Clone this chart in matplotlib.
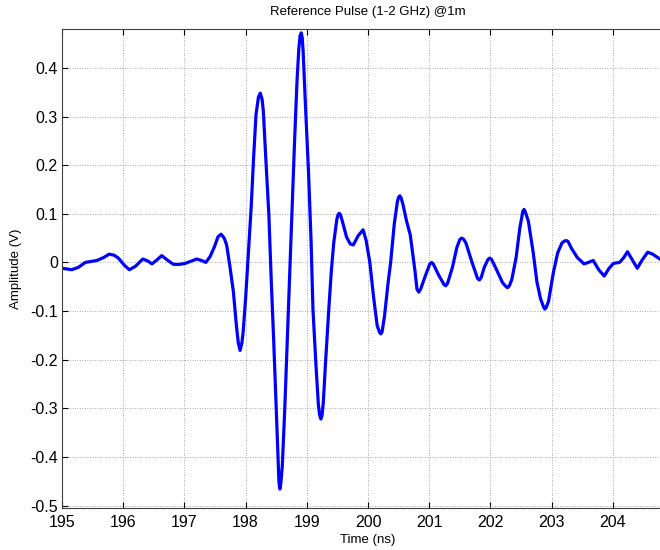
import matplotlib
matplotlib.use("Agg")
from matplotlib import pyplot as plt

# Reference pulse (time in ns, amplitude in V)
time_ns = [195.00, 195.16, 195.27, 195.38, 195.57, 195.68, 195.77, 195.85, 195.92, 196.02,
           196.10, 196.20, 196.32, 196.40, 196.47, 196.55, 196.63, 196.72, 196.82, 196.92,
           197.01, 197.10, 197.20, 197.28, 197.35, 197.42, 197.49, 197.55, 197.60, 197.65,
           197.69, 197.74, 197.80, 197.85, 197.88, 197.91, 197.94, 197.96, 198.00, 198.04,
           198.09, 198.13, 198.17, 198.21, 198.24, 198.27, 198.29, 198.33, 198.38, 198.42,
           198.46, 198.50, 198.53, 198.545, 198.56, 198.575, 198.60, 198.64, 198.68, 198.72,
           198.76, 198.80, 198.84, 198.87, 198.89, 198.91, 198.925, 198.94, 198.98, 199.03,
           199.07, 199.10, 199.15, 199.19, 199.21, 199.23, 199.25, 199.27, 199.31, 199.36,
           199.40, 199.44, 199.49, 199.51, 199.53, 199.55, 199.58, 199.65, 199.71, 199.76,
           199.84, 199.92, 199.97, 200.03, 200.09, 200.15, 200.19, 200.21, 200.23, 200.27,
           200.33, 200.37, 200.43, 200.48, 200.50, 200.52, 200.54, 200.57, 200.63, 200.69,
           200.77, 200.80, 200.83, 200.86, 200.93, 201.01, 201.04, 201.07, 201.15, 201.24,
           201.27, 201.30, 201.38, 201.45, 201.50, 201.53, 201.56, 201.60, 201.70, 201.79,
           201.82, 201.85, 201.90, 201.96, 201.99, 202.02, 202.10, 202.20, 202.25, 202.28,
           202.31, 202.35, 202.42, 202.48, 202.53, 202.55, 202.57, 202.62, 202.70, 202.76,
           202.82, 202.87, 202.89, 202.91, 202.95, 203.03, 203.10, 203.17, 203.21, 203.24,
           203.27, 203.32, 203.42, 203.53, 203.60, 203.68, 203.77, 203.86, 203.94, 204.01,
           204.11, 204.18, 204.24, 204.32, 204.40, 204.48, 204.57, 204.65, 204.77]
amplitude_v = [-0.012, -0.015, -0.010, 0.000, 0.004, 0.010, 0.017, 0.015, 0.009, -0.006,
               -0.015, -0.008, 0.007, 0.003, -0.003, 0.005, 0.014, 0.005, -0.004, -0.004,
               -0.002, 0.002, 0.007, 0.004, 0.000, 0.012, 0.032, 0.053, 0.058, 0.050,
               0.036, -0.005, -0.060, -0.130, -0.165, -0.181, -0.165, -0.143, -0.074, 0.008,
               0.111, 0.214, 0.304, 0.340, 0.348, 0.335, 0.311, 0.214, 0.098, -0.040,
               -0.164, -0.301, -0.404, -0.452, -0.466, -0.455, -0.418, -0.301, -0.164, -0.033,
               0.111, 0.249, 0.373, 0.440, 0.466, 0.472, 0.462, 0.434, 0.318, 0.180,
               0.043, -0.095, -0.212, -0.294, -0.314, -0.322, -0.314, -0.287, -0.198, -0.095,
               -0.019, 0.040, 0.088, 0.098, 0.101, 0.098, 0.085, 0.052, 0.038, 0.036,
               0.055, 0.067, 0.045, 0.000, -0.070, -0.130, -0.144, -0.147, -0.143, -0.110,
               -0.040, 0.000, 0.080, 0.125, 0.134, 0.137, 0.133, 0.120, 0.085, 0.057,
               -0.020, -0.055, -0.061, -0.055, -0.030, -0.003, 0.000, -0.004, -0.025, -0.045,
               -0.048, -0.043, -0.010, 0.030, 0.047, 0.050, 0.048, 0.040, 0.000, -0.033,
               -0.036, -0.031, -0.010, 0.006, 0.009, 0.006, -0.015, -0.042, -0.049, -0.052,
               -0.048, -0.035, 0.010, 0.070, 0.105, 0.109, 0.104, 0.085, 0.020, -0.040,
               -0.075, -0.092, -0.096, -0.093, -0.080, -0.020, 0.020, 0.040, 0.044, 0.045,
               0.043, 0.030, 0.010, -0.003, 0.000, 0.004, -0.015, -0.028, -0.012, -0.002,
               0.000, 0.010, 0.022, 0.005, -0.012, 0.005, 0.021, 0.017, 0.007]

x_ticks = [195, 196, 197, 198, 199, 200, 201, 202, 203, 204]
y_ticks = [-0.5, -0.4, -0.3, -0.2, -0.1, 0, 0.1, 0.2, 0.3, 0.4]
y_tick_labels = ["-0.5", "-0.4", "-0.3", "-0.2", "-0.1", "0", "0.1", "0.2", "0.3", "0.4"]

plt.rcParams["font.family"] = ["Liberation Sans", "DejaVu Sans"]

fig = plt.figure(figsize=(6.6, 5.5), dpi=100)
# axes run past the right edge, as in the cropped reference
ax = fig.add_axes([62 / 660, 42 / 550, 612 / 660, 479 / 550])

ax.plot(time_ns, amplitude_v, color="#0000FF", linewidth=2.3, solid_joinstyle="round")

ax.set_xlim(195, 205)
ax.set_ylim(-0.505, 0.48)
ax.set_xticks(x_ticks)
ax.set_yticks(y_ticks)
ax.set_yticklabels(y_tick_labels)
ax.tick_params(direction="in", top=True, right=True, labelsize=11.5, length=4, pad=3)
ax.tick_params(axis="x", pad=5)

ax.grid(True, linestyle=(0, (1, 2)), color="0.55", linewidth=0.6)
for s in ax.spines.values():
    s.set_color("0.25")
    s.set_linewidth(0.8)

ax.set_title("Reference Pulse (1-2 GHz) @1m", fontsize=9.5, pad=10)
ax.set_xlabel("Time (ns)", fontsize=9.5, labelpad=3)
ax.set_ylabel("Amplitude (V)", fontsize=9.5, labelpad=6)

fig.savefig("out.png", dpi=100)
